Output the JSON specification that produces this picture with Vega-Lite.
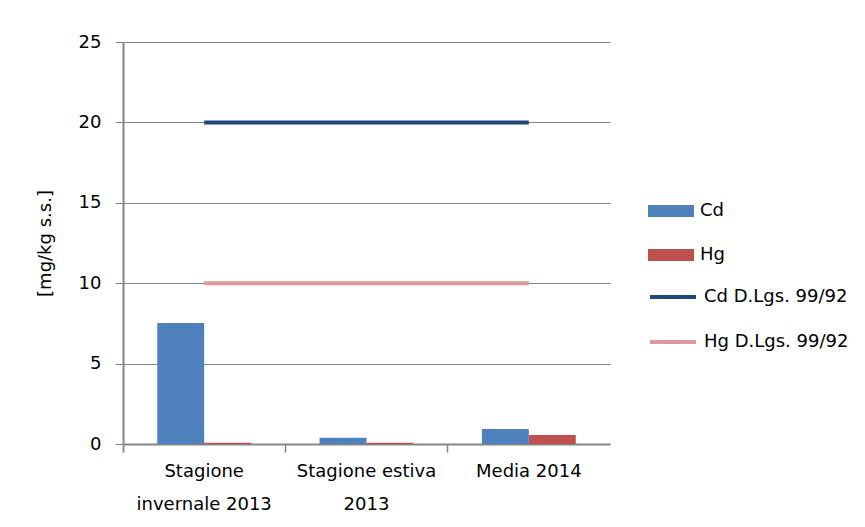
{
  "$schema": "https://vega.github.io/schema/vega-lite/v6.json",
  "width": 487,
  "height": 402,
  "autosize": "none",
  "padding": {"left": 123, "top": 42, "right": 255, "bottom": 83},
  "background": "white",
  "config": {
    "view": {"stroke": null},
    "font": "DejaVu Sans",
    "axis": {"labelFont": "DejaVu Sans", "titleFont": "DejaVu Sans"},
    "legend": {"labelFont": "DejaVu Sans"}
  },
  "datasets": {
    "bars": [
      {"cat": "Stagione invernale 2013", "series": "Cd", "value": 7.52},
      {"cat": "Stagione invernale 2013", "series": "Hg", "value": 0.08},
      {"cat": "Stagione estiva 2013", "series": "Cd", "value": 0.39},
      {"cat": "Stagione estiva 2013", "series": "Hg", "value": 0.07},
      {"cat": "Media 2014", "series": "Cd", "value": 0.93},
      {"cat": "Media 2014", "series": "Hg", "value": 0.56}
    ],
    "limits": [
      {"cat": "Stagione invernale 2013", "series": "Cd D.Lgs. 99/92", "value": 20},
      {"cat": "Stagione estiva 2013", "series": "Cd D.Lgs. 99/92", "value": 20},
      {"cat": "Media 2014", "series": "Cd D.Lgs. 99/92", "value": 20},
      {"cat": "Stagione invernale 2013", "series": "Hg D.Lgs. 99/92", "value": 10},
      {"cat": "Stagione estiva 2013", "series": "Hg D.Lgs. 99/92", "value": 10},
      {"cat": "Media 2014", "series": "Hg D.Lgs. 99/92", "value": 10}
    ]
  },
  "encoding": {
    "x": {
      "field": "cat",
      "type": "nominal",
      "sort": ["Stagione invernale 2013", "Stagione estiva 2013", "Media 2014"],
      "scale": {"paddingInner": 0, "paddingOuter": 0},
      "axis": {
        "title": null,
        "labelAngle": 0,
        "bandPosition": 0,
        "grid": false,
        "domainColor": "#868686",
        "domainWidth": 2,
        "tickColor": "#868686",
        "tickWidth": 1.5,
        "tickSize": 8,
        "tickExtra": true,
        "labelFontSize": 18,
        "labelColor": "#000000",
        "labelPadding": 10,
        "labelLineHeight": 33,
        "labelBaseline": "top",
        "labelExpr": "datum.value == 'Stagione invernale 2013' ? ['Stagione', 'invernale 2013'] : datum.value == 'Stagione estiva 2013' ? ['Stagione estiva', '2013'] : datum.value"
      }
    },
    "y": {
      "field": "value",
      "type": "quantitative",
      "scale": {"domain": [0, 25]},
      "axis": {
        "title": "[mg/kg s.s.]",
        "titleFontSize": 18,
        "titleFontWeight": "normal",
        "titleColor": "#000000",
        "titlePadding": 24,
        "values": [0, 5, 10, 15, 20, 25],
        "grid": true,
        "gridColor": "#868686",
        "gridWidth": 1,
        "domainColor": "#868686",
        "domainWidth": 2,
        "tickColor": "#868686",
        "tickSize": 8,
        "labelFontSize": 18,
        "labelColor": "#000000",
        "labelPadding": 14
      }
    }
  },
  "layer": [
    {
      "data": {"name": "bars"},
      "mark": {"type": "bar"},
      "encoding": {
        "xOffset": {
          "field": "series",
          "type": "nominal",
          "scale": {"paddingInner": 0, "paddingOuter": 0.73}
        },
        "fill": {
          "field": "series",
          "type": "nominal",
          "scale": {"domain": ["Cd", "Hg"], "range": ["#4F81BD", "#C0504D"]},
          "legend": {
            "title": null,
            "orient": "none",
            "legendX": 525,
            "legendY": 146,
            "symbolType": "M-1,-0.26H1V0.26H-1Z",
            "symbolSize": 2116,
            "symbolStrokeWidth": 0,
            "labelFontSize": 18,
            "labelColor": "#000000",
            "labelOffset": 6,
            "rowPadding": 12
          }
        }
      }
    },
    {
      "data": {"name": "limits"},
      "mark": {"type": "line", "strokeWidth": 4},
      "encoding": {
        "stroke": {
          "field": "series",
          "type": "nominal",
          "scale": {"domain": ["Cd D.Lgs. 99/92", "Hg D.Lgs. 99/92"], "range": ["#1F497D", "#E0999A"]},
          "legend": {
            "title": null,
            "orient": "none",
            "legendX": 525,
            "legendY": 230,
            "symbolType": "stroke",
            "symbolSize": 2116,
            "symbolStrokeWidth": 4,
            "labelFontSize": 18,
            "labelColor": "#000000",
            "labelOffset": 6,
            "rowPadding": 11
          }
        }
      }
    }
  ],
  "resolve": {"scale": {"fill": "independent", "stroke": "independent"}}
}
